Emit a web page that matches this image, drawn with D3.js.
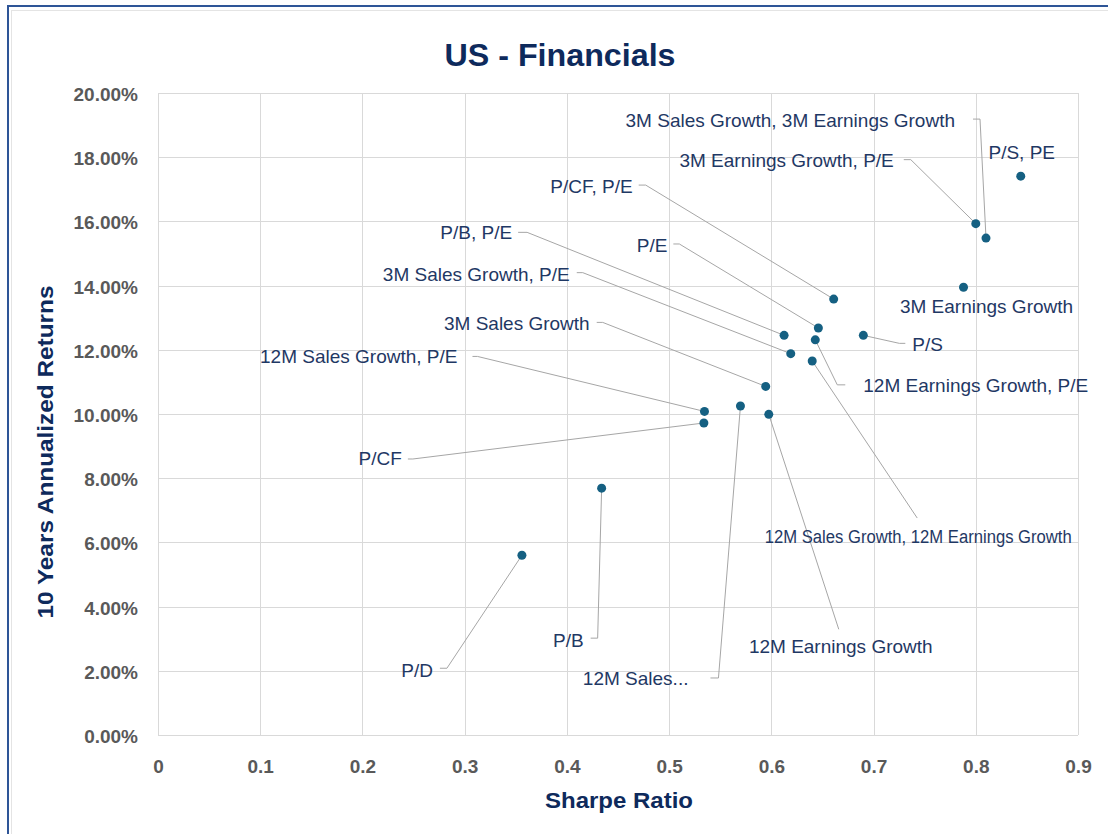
<!DOCTYPE html>
<html lang="en">
<head>
<meta charset="UTF-8">
<script src="https://cdn.jsdelivr.net/npm/d3@7"></script>
<title>US - Financials</title>
<style>
    body { margin: 0; background: #fff; }
    text { font-family: "Liberation Sans", Arial, sans-serif; }
</style>
</head>
<body>
<div id="chart"></div>
<script>
    // Data
    const names = [
        "P/S, PE",
        "3M Earnings Growth, P/E",
        "3M Sales Growth, 3M Earnings Growth",
        "3M Earnings Growth",
        "P/CF, P/E",
        "P/E",
        "P/B, P/E",
        "P/S",
        "12M Earnings Growth, P/E",
        "3M Sales Growth, P/E",
        "12M Sales Growth, 12M Earnings Growth",
        "3M Sales Growth",
        "12M Sales Growth, P/E",
        "12M Sales...",
        "12M Earnings Growth",
        "P/CF",
        "P/B",
        "P/D"
    ];
    const sharpe = [0.844, 0.800, 0.810, 0.788, 0.661, 0.646, 0.6125, 0.690, 0.643, 0.619, 0.640, 0.5945, 0.5346, 0.5698, 0.5975, 0.534, 0.434, 0.356];
    const returns = [0.1741, 0.1593, 0.1548, 0.1395, 0.1358, 0.1268, 0.1245, 0.1245, 0.1231, 0.1188, 0.1165, 0.1086, 0.1008, 0.1025, 0.0999, 0.0972, 0.0769, 0.0560];
    const xTicks = [0, 0.1, 0.2, 0.3, 0.4, 0.5, 0.6, 0.7, 0.8, 0.9];
    const yTicks = [0, 0.02, 0.04, 0.06, 0.08, 0.10, 0.12, 0.14, 0.16, 0.18, 0.20];

    // label placement, pixel offsets from each point (like Excel's dragged labels)
    const labelLayout = [
        { dx: 1, dy: -17, anchor: "middle" },
        { dx: -82, dy: -57, anchor: "end", lead: [[-72, -64], [-65, -64]] },
        { dx: -31, dy: -111, anchor: "end", lead: [[-13, -119], [-6, -119]] },
        { dx: 23, dy: 26, anchor: "middle" },
        { dx: -201, dy: -106, anchor: "end", lead: [[-195, -114], [-188, -114]] },
        { dx: -151, dy: -76, anchor: "end", lead: [[-145, -84], [-139, -84]] },
        { dx: -272, dy: -96, anchor: "end", lead: [[-266, -103], [-257, -103]] },
        { dx: 49, dy: 16, anchor: "start", lead: [[42, 8], [36, 8]] },
        { dx: 48, dy: 52, anchor: "start", lead: [[30, 45], [22, 45]] },
        { dx: -221, dy: -73, anchor: "end", lead: [[-214, -81], [-208, -81]] },
        { dx: 106, dy: 182, anchor: "middle", lead: [[105, 157]], small: true },
        { dx: -176, dy: -56, anchor: "end", lead: [[-169, -64], [-163, -64]] },
        { dx: -247, dy: -48, anchor: "end", lead: [[-232, -55], [-227, -55]] },
        { dx: -52, dy: 279, anchor: "end", lead: [[-30, 272], [-22, 272]] },
        { dx: 72, dy: 239, anchor: "middle", lead: [[70, 215]] },
        { dx: -302, dy: 42, anchor: "end", lead: [[-296, 36], [-291, 36]] },
        { dx: -18, dy: 159, anchor: "end", lead: [[-11, 150], [-4, 150]] },
        { dx: -89, dy: 122, anchor: "end", lead: [[-82, 113], [-75, 113]] }
    ];

    const points = names.map((n, i) => ({ name: n, sr: sharpe[i], ret: returns[i], lay: labelLayout[i] }));

    const width = 1108, height = 834;
    const navy = "#1f3864";
    const titleNavy = "#0e2a5c";

    const svg = d3.select("#chart").append("svg")
        .attr("width", width)
        .attr("height", height);

    // screenshot frame (sheet border)
    svg.append("line").attr("x1", 11).attr("x2", width).attr("y1", 10.5).attr("y2", 10.5)
        .attr("stroke", "#e4e4e4").attr("stroke-width", 1);
    svg.append("line").attr("x1", 11.5).attr("x2", 11.5).attr("y1", 10).attr("y2", height)
        .attr("stroke", "#e4e4e4").attr("stroke-width", 1);
    svg.append("line").attr("x1", 7).attr("x2", width).attr("y1", 6).attr("y2", 6)
        .attr("stroke", "#2e5597").attr("stroke-width", 2);
    svg.append("line").attr("x1", 8).attr("x2", 8).attr("y1", 5).attr("y2", height)
        .attr("stroke", "#2e5597").attr("stroke-width", 2);

    const x = d3.scaleLinear().domain([0, 0.9]).range([158, 1078]);
    const y = d3.scaleLinear().domain([0, 0.2]).range([735, 93]);

    // gridlines
    svg.append("g").selectAll("line").data(xTicks).join("line")
        .attr("x1", d => Math.round(x(d)) + 0.5).attr("x2", d => Math.round(x(d)) + 0.5)
        .attr("y1", y(0.2)).attr("y2", y(0))
        .attr("stroke", "#d9d9d9").attr("stroke-width", 1);
    svg.append("g").selectAll("line").data(yTicks).join("line")
        .attr("x1", x(0)).attr("x2", x(0.9))
        .attr("y1", d => Math.round(y(d)) + 0.5).attr("y2", d => Math.round(y(d)) + 0.5)
        .attr("stroke", "#d9d9d9").attr("stroke-width", 1);

    // axes (labels only)
    const yAxis = svg.append("g")
        .attr("transform", `translate(${x(0)},1.5)`)
        .call(d3.axisLeft(y).tickValues(yTicks).tickFormat(d3.format(".2%")).tickSize(0).tickPadding(20));
    const xAxis = svg.append("g")
        .attr("transform", `translate(0,${y(0)})`)
        .call(d3.axisBottom(x).tickValues(xTicks).tickFormat(d => d === 0 ? "0" : d3.format(".1f")(d)).tickSize(0).tickPadding(25));
    [yAxis, xAxis].forEach(g => {
        g.select(".domain").remove();
        g.selectAll("text")
            .attr("fill", "#595959")
            .style("font-size", "19px")
            .style("font-weight", "bold")
            .style("font-family", "'Liberation Sans', Arial, sans-serif");
    });

    // titles
    svg.append("text")
        .attr("x", 560).attr("y", 66)
        .attr("text-anchor", "middle")
        .attr("fill", titleNavy)
        .attr("font-size", 32).attr("font-weight", "bold")
        .attr("textLength", 231).attr("lengthAdjust", "spacingAndGlyphs")
        .text("US - Financials");

    svg.append("text")
        .attr("x", 619).attr("y", 808)
        .attr("text-anchor", "middle")
        .attr("fill", titleNavy)
        .attr("font-size", 22).attr("font-weight", "bold")
        .attr("textLength", 148).attr("lengthAdjust", "spacingAndGlyphs")
        .text("Sharpe Ratio");

    svg.append("text")
        .attr("transform", "translate(53,452) rotate(-90)")
        .attr("text-anchor", "middle")
        .attr("fill", titleNavy)
        .attr("font-size", 22).attr("font-weight", "bold")
        .attr("textLength", 333).attr("lengthAdjust", "spacingAndGlyphs")
        .text("10 Years Annualized Returns");

    // leader lines
    svg.append("g").selectAll("path")
        .data(points.filter(d => d.lay.lead))
        .join("path")
        .attr("d", d => {
            const px = x(d.sr), py = y(d.ret);
            const pts = d.lay.lead.map(p => [px + p[0], py + p[1]]).concat([[px, py]]);
            return d3.line()(pts);
        })
        .attr("fill", "none")
        .attr("stroke", "#a6a6a6")
        .attr("stroke-width", 1);

    // points
    svg.append("g").selectAll("circle")
        .data(points)
        .join("circle")
        .attr("cx", d => x(d.sr))
        .attr("cy", d => y(d.ret))
        .attr("r", 4.5)
        .attr("fill", "#156082");

    // data labels
    svg.append("g").selectAll("text")
        .data(points)
        .join("text")
        .attr("x", d => x(d.sr) + d.lay.dx)
        .attr("y", d => y(d.ret) + d.lay.dy)
        .attr("text-anchor", d => d.lay.anchor)
        .attr("fill", navy)
        .attr("font-size", d => d.lay.small ? 18 : 19)
        .each(function (d) {
            if (d.lay.small) {
                d3.select(this).attr("textLength", 307).attr("lengthAdjust", "spacingAndGlyphs");
            }
        })
        .text(d => d.name);
</script>
</body>
</html>
